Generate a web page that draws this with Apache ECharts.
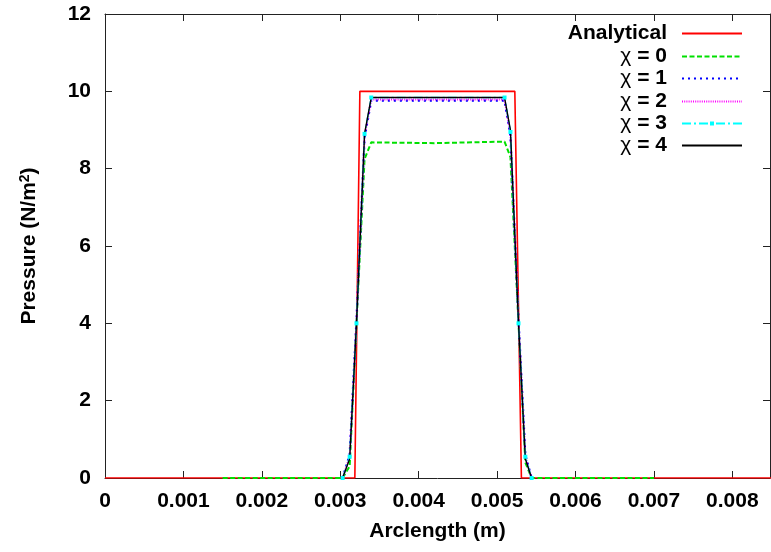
<!DOCTYPE html>
<html>
<head>
<meta charset="utf-8">
<script src="https://cdn.jsdelivr.net/npm/echarts@6/dist/echarts.min.js"></script>
<style>
  html, body { margin: 0; padding: 0; background: #fff; }
  #chart { width: 771px; height: 552px; }
</style>
</head>
<body>
<div id="chart"></div>
<script>
// Contact pressure along the arclength: analytical step vs. numerical results for several chi values.

// Analytical pressure profile
const xAnalytical = [0, 0.003186, 0.00325, 0.005226, 0.00531, 0.0085];
const pAnalytical = [0, 0, 10, 10, 0, 0];

// chi = 0
const xChi0 = [0.0015, 0.00303, 0.00312, 0.003207, 0.00331, 0.003395, 0.0042, 0.005095, 0.00517, 0.005273, 0.00536, 0.00544, 0.007];
const pChi0 = [0, 0, 0.3, 4.0, 8.25, 8.68, 8.66, 8.70, 8.3, 4.0, 0.4, 0, 0];

// shared nodes for chi = 1..4
const xMesh = [0.00303, 0.00312, 0.003207, 0.00331, 0.003395, 0.005095, 0.00517, 0.005273, 0.00536, 0.00544];
const pChi1 = [0, 0.6, 4.1, 8.8, 9.76, 9.76, 8.85, 4.1, 0.6, 0];
const pChi2 = [0, 0.55, 4.05, 8.85, 9.79, 9.79, 8.9, 4.05, 0.55, 0];
const pChi3 = [0, 0.55, 4.0, 8.9, 9.84, 9.84, 8.95, 4.0, 0.55, 0];
const pChi4 = [0, 0.5, 4.0, 8.9, 9.84, 9.84, 9.0, 4.0, 0.5, 0];

const seriesNames = ['Analytical', 'χ = 0', 'χ = 1', 'χ = 2', 'χ = 3', 'χ = 4'];

// axis settings
const xMin = 0, xMax = 0.00848, xStep = 0.001;
const yMin = 0, yMax = 12, yStep = 2;

const FONT = 'Liberation Sans';
const pairs = (xs, ys) => xs.map((x, i) => [x, ys[i]]);

const lineDefs = [
  { data: pairs(xAnalytical, pAnalytical), color: '#ff0000', width: 1.6, type: 'solid' },
  { data: pairs(xChi0, pChi0), color: '#00e000', width: 2, type: [5, 2.5] },
  { data: pairs(xMesh, pChi1), color: '#0000ff', width: 2.2, type: [2, 4] },
  { data: pairs(xMesh, pChi2), color: '#ff00ff', width: 2, type: [1, 1.2] },
  { data: pairs(xMesh, pChi3), color: '#00ffff', width: 1.5, type: [9, 3, 2, 3], symbol: 'rect' },
  { data: pairs(xMesh, pChi4), color: '#000000', width: 1.4, type: 'solid' }
];

const series = lineDefs.map((d, i) => ({
  name: seriesNames[i],
  type: 'line',
  xAxisIndex: 0,
  yAxisIndex: 0,
  data: d.data,
  symbol: d.symbol || 'none',
  symbolSize: 4,
  showSymbol: !!d.symbol,
  animation: false,
  clip: true,
  itemStyle: { color: d.color },
  lineStyle: { color: d.color, width: d.width, type: d.type },
  emphasis: { disabled: true }
}));

// one legend block per row so the samples line up on the right
const legendTop = [23, 46, 68, 91, 113, 135];
const legends = seriesNames.map((name, i) => ({
  data: [name],
  orient: 'vertical',
  right: 28,
  top: legendTop[i],
  align: 'right',
  itemWidth: 60,
  itemHeight: 5,
  padding: 0,
  selectedMode: false,
  itemStyle: lineDefs[i].symbol ? {} : { opacity: 0 },
  formatter: n => {
    if (n.indexOf('χ') === 0) return '{c|χ}{b|' + n.slice(1) + '}';
    return '{b|' + n + '}';
  },
  textStyle: {
    padding: [0, 10, 0, 0],
    rich: {
      b: { fontFamily: FONT, fontWeight: 'bold', fontSize: 21, color: '#000' },
      c: { fontFamily: FONT, fontWeight: 'normal', fontSize: 21, color: '#000' }
    }
  }
}));

const tickStyle = { show: true, inside: true, length: 7, lineStyle: { color: '#222', width: 1 } };
const lineStyleAxis = { show: true, onZero: false, lineStyle: { color: '#222', width: 1 } };
const labelStyle = { fontFamily: FONT, fontWeight: 'bold', fontSize: 21, color: '#000' };

const option = {
  backgroundColor: '#fff',
  animation: false,
  grid: { left: 105, right: 1, top: 14, bottom: 74, containLabel: false },
  legend: legends,
  xAxis: [
    {
      type: 'value', position: 'bottom', min: xMin, max: xMax, interval: xStep,
      axisLine: lineStyleAxis, axisTick: tickStyle,
      axisLabel: Object.assign({ margin: 13, showMaxLabel: false }, labelStyle),
      splitLine: { show: false },
      name: 'Arclength (m)', nameLocation: 'middle', nameGap: 43,
      nameTextStyle: labelStyle
    },
    {
      type: 'value', position: 'top', min: xMin, max: xMax, interval: xStep,
      axisLine: lineStyleAxis, axisTick: tickStyle,
      axisLabel: { show: false }, splitLine: { show: false }
    }
  ],
  yAxis: [
    {
      type: 'value', position: 'left', min: yMin, max: yMax, interval: yStep,
      axisLine: lineStyleAxis, axisTick: tickStyle,
      axisLabel: Object.assign({ margin: 14 }, labelStyle),
      splitLine: { show: false },
      name: '{b|Pressure (N/m}{s|2}{b|)}', nameLocation: 'middle', nameGap: 65, nameRotate: 90,
      nameTextStyle: {
        rich: {
          b: labelStyle,
          s: { fontFamily: FONT, fontWeight: 'bold', fontSize: 14, color: '#000', verticalAlign: 'top', padding: [0, 0, 8, 0] }
        }
      }
    },
    {
      type: 'value', position: 'right', min: yMin, max: yMax, interval: yStep,
      axisLine: lineStyleAxis, axisTick: tickStyle,
      axisLabel: { show: false }, splitLine: { show: false }
    }
  ],
  series: series
};

const chart = echarts.init(document.getElementById('chart'), null, { renderer: 'canvas' });
chart.setOption(option);
</script>
</body>
</html>
